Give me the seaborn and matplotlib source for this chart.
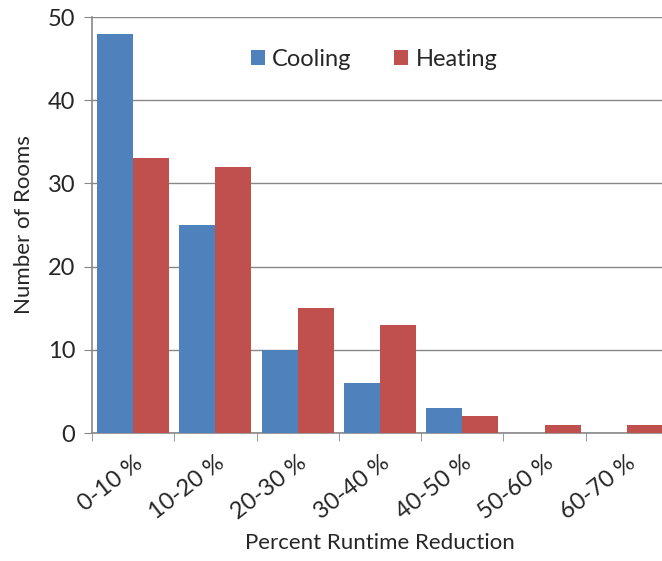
import pandas as pd
import seaborn as sns
import matplotlib.pyplot as plt

# Runtime reduction histogram
ranges = ["0-10 %", "10-20 %", "20-30 %", "30-40 %", "40-50 %", "50-60 %", "60-70 %"]
cooling = [48, 25, 10, 6, 3, 0, 0]
heating = [33, 32, 15, 13, 2, 1, 1]

df = pd.DataFrame({
  "range": ranges * 2,
  "rooms": cooling + heating,
  "mode": ["Cooling"] * len(ranges) + ["Heating"] * len(ranges),
})

sns.set_style("white")
plt.rcParams["font.family"] = ["Lato", "DejaVu Sans"]

fig = plt.figure(figsize = (6.62, 5.61), dpi = 100)
ax = fig.add_axes([92 / 662, 1 - 433 / 561, 576 / 662, 416 / 561])

sns.barplot(data = df, x = "range", y = "rooms", hue = "mode",
            palette = ["#4F81BD", "#C0504D"], saturation = 1,
            width = 0.875, linewidth = 0, ax = ax, zorder = 3)

ax.set_xlim(-0.5, 6.5)
ax.set_ylim(0, 50)
ax.set_yticks(range(0, 51, 10))
ax.tick_params(axis = "y", labelsize = 17, length = 6, color = "#878787", direction = "out", left = True, pad = 6)
ax.yaxis.grid(True, color = "#878787", linewidth = 1)
ax.set_axisbelow(True)

# category boundaries get the tick marks, labels sit at centres
ax.set_xticks([i - 0.5 for i in range(8)], minor = True)
ax.tick_params(axis = "x", which = "minor", length = 6, color = "#878787", bottom = True)
ax.tick_params(axis = "x", which = "major", length = 0, labelsize = 17, pad = 14)
plt.setp(ax.get_xticklabels(), rotation = 38, ha = "right", rotation_mode = "anchor")

for s in ["top", "right"]:
  ax.spines[s].set_visible(False)
for s in ["left", "bottom"]:
  ax.spines[s].set_color("#878787")
  ax.spines[s].set_linewidth(1.2)

ax.set_xlabel("Percent Runtime Reduction", fontsize = 16, labelpad = 7)
ax.set_ylabel("Number of Rooms", fontsize = 16, labelpad = 10)

ax.legend(loc = "upper center", bbox_to_anchor = (0.49, 0.975), ncol = 2, frameon = False,
          fontsize = 17, handlelength = 0.6, handleheight = 0.6, handletextpad = 0.3,
          columnspacing = 1.8)

fig.savefig("out.png", dpi = 100)
